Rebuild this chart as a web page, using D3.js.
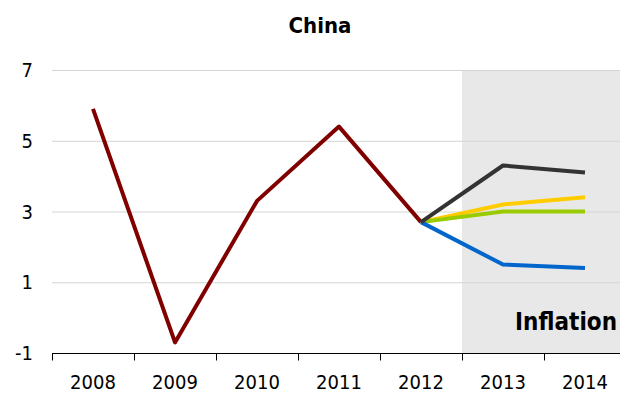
<!DOCTYPE html>
<html>
<head>
<meta charset="utf-8">
<script src="https://cdn.jsdelivr.net/npm/d3@7"></script>
<style>
  body { margin: 0; background: #fff; }
  text { font-family: "DejaVu Sans Condensed", "DejaVu Sans", sans-serif; font-stretch: condensed; }
</style>
</head>
<body>
<div id="chart"></div>
<script>
// data
var years = ["2008", "2009", "2010", "2011", "2012", "2013", "2014"];
var actual = [5.9, -0.7, 3.3, 5.4, 2.7];
var forecastYears = ["2012", "2013", "2014"];
var highCase = [2.7, 4.3, 4.1];
var yellowCase = [2.7, 3.2, 3.4];
var greenCase = [2.7, 3.0, 3.0];
var lowCase = [2.7, 1.5, 1.4];
var yTicks = [-1, 1, 3, 5, 7];
var shadedYears = ["2013", "2014"];

var svgWidth = 620;
var svgHeight = 394;

var svg = d3.select("#chart").append("svg")
  .attr("width", svgWidth)
  .attr("height", svgHeight);

var x = d3.scaleBand()
  .domain(years)
  .range([52, 626]);

var y = d3.scaleLinear()
  .domain([-1, 7])
  .range([353, 70]);

//shaded forecast area
svg.append("rect")
  .attr("x", x(shadedYears[0]))
  .attr("y", y(7))
  .attr("width", svgWidth - x(shadedYears[0]))
  .attr("height", y(-1) - y(7))
  .attr("fill", "#e8e8e8");

//gridlines
svg.append("g")
  .selectAll("line")
  .data(yTicks.filter(function(d) { return d > -1; }))
  .enter()
  .append("line")
  .attr("x1", 52)
  .attr("x2", svgWidth)
  .attr("y1", function(d) { return y(d) + 0.5; })
  .attr("y2", function(d) { return y(d) + 0.5; })
  .attr("stroke", "#d4d4d4")
  .attr("stroke-width", 1);

//y labels
svg.append("g")
  .selectAll("text")
  .data(yTicks)
  .enter()
  .append("text")
  .attr("x", 33)
  .attr("y", function(d) { return y(d); })
  .attr("dy", "0.36em")
  .attr("text-anchor", "end")
  .attr("font-size", 20)
  .attr("fill", "#000")
  .text(function(d) { return d; });

//x axis
var xAxis = svg.append("g")
  .attr("transform", "translate(0," + (y(-1) + 0.5) + ")");

xAxis.append("line")
  .attr("x1", 52)
  .attr("x2", svgWidth)
  .attr("stroke", "#000")
  .attr("stroke-width", 1);

xAxis.selectAll(".tick")
  .data(years)
  .enter()
  .append("line")
  .attr("x1", function(d) { return Math.round(x(d)) + 0.5; })
  .attr("x2", function(d) { return Math.round(x(d)) + 0.5; })
  .attr("y1", 0)
  .attr("y2", 7)
  .attr("stroke", "#000");

xAxis.selectAll("text")
  .data(years)
  .enter()
  .append("text")
  .attr("x", function(d) { return x(d) + x.bandwidth() / 2; })
  .attr("y", 35)
  .attr("text-anchor", "middle")
  .attr("font-size", 20)
  .attr("fill", "#000")
  .text(function(d) { return d; });

//lines
var line = d3.line()
  .x(function(d) { return x(d[0]) + x.bandwidth() / 2; })
  .y(function(d) { return y(d[1]); });

function drawSeries(cats, vals, color, width) {
  svg.append("path")
    .datum(cats.map(function(c, i) { return [c, vals[i]]; }))
    .attr("d", line)
    .attr("fill", "none")
    .attr("stroke", color)
    .attr("stroke-width", width)
    .attr("stroke-linejoin", "round");
}

drawSeries(years.slice(0, actual.length), actual, "#800000", 4);
drawSeries(forecastYears, yellowCase, "#ffcc00", 4);
drawSeries(forecastYears, greenCase, "#99cc00", 4);
drawSeries(forecastYears, lowCase, "#0066cc", 4);
drawSeries(forecastYears, highCase, "#333333", 4);

//title
svg.append("text")
  .attr("x", 320)
  .attr("y", 33)
  .attr("text-anchor", "middle")
  .attr("font-size", 22)
  .attr("font-weight", "bold")
  .attr("fill", "#000")
  .text("China");

svg.append("text")
  .attr("x", 617)
  .attr("y", 330)
  .attr("text-anchor", "end")
  .attr("font-size", 24)
  .attr("font-weight", "bold")
  .attr("fill", "#000")
  .text("Inflation");
</script>
</body>
</html>
